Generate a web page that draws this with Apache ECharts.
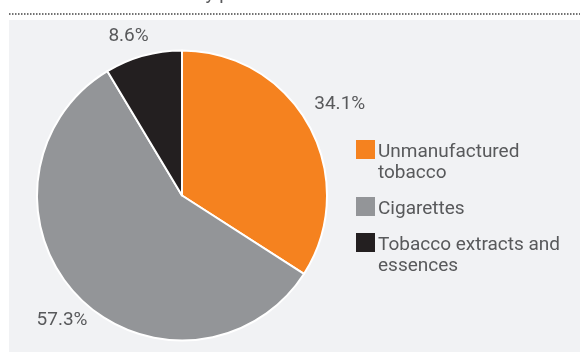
<!DOCTYPE html>
<html><head><meta charset="utf-8">
<script src="https://cdn.jsdelivr.net/npm/echarts@6/dist/echarts.min.js"></script>
<style>html,body{margin:0;padding:0;background:#fff}#c{width:580px;height:353px}</style>
</head><body><div id="c"></div>
<script>
const categories = ['Unmanufactured\ntobacco', 'Cigarettes', 'Tobacco extracts and\nessences'];
const shares = [34.1, 57.3, 8.6];
const colors = ['#f5821f', '#939598', '#231f20'];
const titleFragment = 'by product';

const FONT = 'Roboto, "Noto Sans", sans-serif';
const TXT = '#58595b';
const CX = 182, CY = 195.5, R = 145;
// small style nudges of the percentage labels away from the ring midline
const LABEL_NUDGE = [[5, -8], [5, 4], [-7, 8]];

const chart = echarts.init(document.getElementById('c'), null, {renderer: 'canvas'});

const graphics = [
  {type: 'rect', shape: {x: 9, y: 20, width: 571, height: 332}, style: {fill: '#f1f2f4'}, z: -10, silent: true},
  {type: 'line', shape: {x1: 9, y1: 14, x2: 580, y2: 14}, style: {stroke: '#444', lineWidth: 1.5, lineDash: [1.5, 1.5]}, silent: true},
  {type: 'text', style: {x: 195, y: 4, text: titleFragment, font: '19px ' + FONT, fill: TXT, verticalAlign: 'bottom'}, silent: true}
];
let legendY = 140;
categories.forEach((name, i) => {
  const lines = name.split('\n').length;
  graphics.push({type: 'rect', shape: {x: 356, y: legendY, width: 19, height: 19}, style: {fill: colors[i]}, silent: true});
  graphics.push({type: 'text', style: {x: 378, y: legendY + 1.25, text: name, font: '19px ' + FONT, fill: TXT, lineHeight: 21, verticalAlign: 'top'}, silent: true});
  legendY += lines * 21 + 15;
});

const pieData = categories.map((n, i) => ({name: n, value: shares[i], itemStyle: {color: colors[i]}}));

chart.setOption({
  animation: false,
  graphic: {elements: graphics},
  series: [
    {
      type: 'pie', center: [CX, CY], radius: R, startAngle: 90, clockwise: true,
      data: pieData,
      itemStyle: {borderColor: '#ffffff', borderWidth: 2},
      label: {show: false}, labelLine: {show: false},
      emphasis: {disabled: true}, silent: true
    },
    {
      type: 'pie', center: [CX, CY], radius: [R, R + 52], startAngle: 90, clockwise: true,
      data: pieData.map((d, i) => ({name: d.name, value: d.value, itemStyle: {color: 'rgba(0,0,0,0)'}, label: {offset: LABEL_NUDGE[i]}})),
      label: {show: true, position: 'inside', formatter: p => p.value.toFixed(1) + '%', color: TXT, fontSize: 19, fontFamily: FONT},
      labelLine: {show: false},
      emphasis: {disabled: true}, silent: true
    }
  ]
});
</script>
</body></html>
